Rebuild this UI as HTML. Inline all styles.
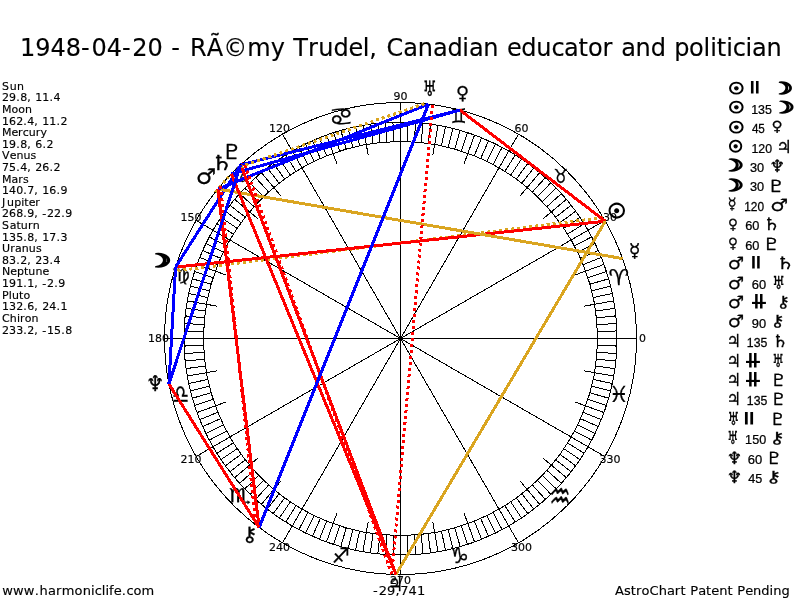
<!DOCTYPE html><html><head><meta charset="utf-8"><title>AstroChart</title><style>html,body{margin:0;padding:0;background:#fff;overflow:hidden}svg{display:block}.v{font-family:"DejaVu Sans","Liberation Sans",sans-serif;stroke:#000;stroke-width:0.15px}.a{font-family:"Liberation Sans","DejaVu Sans",sans-serif}.g{font-family:"DejaVu Sans",sans-serif}</style></head><body>
<svg width="800" height="600" viewBox="0 0 800 600">
<rect width="800" height="600" fill="#fff"/>
<g fill="#000">
<text class="v" x="20 35.27 50.54 65.82 81.09 91.43 106.7 121.98 132.32 147.59 162.87 171.31 181.66 190.1 206.87 223.31 247.33 270.7 284.75 293.19 308.02 318.27 333.47 348.44 362.76 369.35 378.09 386.54 403.36 417.77 432.97 447.39 462.36 468.95 483.36 498.56 507.01 521.33 536.3 551.5 564.09 578.5 587.97 602.43 612.68 621.13 635.54 650.74 665.71 674.16 689.12 703.59 710.18 716.77 726.24 732.83 745.41 752 766.42" y="55.8" font-size="24">1948-04-20 - RÃ©my Trudel, Canadian educator and politician</text>
<text class="v" x="2 9.77 16.96" y="89.75" font-size="11">Sun</text>
<text class="v" x="2 9.08 16.16 20.21 27.28 31.33 35.25 42.33 49.4 53.45" y="101.36" font-size="11">29.8, 11.4</text>
<text class="v" x="2 11.5 18.28 25.06" y="112.96" font-size="11">Moon</text>
<text class="v" x="2 9.07 16.14 23.21 27.25 34.32 38.36 42.27 49.34 56.41 60.46" y="124.57" font-size="11">162.4, 11.2</text>
<text class="v" x="2 11.42 18.08 22.85 28.71 35.78 40.55" y="136.18" font-size="11">Mercury</text>
<text class="v" x="2 9.09 16.18 20.24 27.32 31.38 35.3 42.39 46.45" y="147.78" font-size="11">19.8, 6.2</text>
<text class="v" x="2 9.68 16.38 23.48 30.59" y="159.39" font-size="11">Venus</text>
<text class="v" x="2 9.08 16.16 20.21 27.28 31.33 35.25 42.33 49.4 53.45" y="171" font-size="11">75.4, 26.2</text>
<text class="v" x="2 11.52 18.3 23.12" y="182.61" font-size="11">Mars</text>
<text class="v" x="2 9.07 16.14 23.21 27.25 34.32 38.36 42.27 49.34 56.41 60.46" y="194.21" font-size="11">140.7, 16.9</text>
<text class="v" x="2 7.07 14.16 21.14 24.21 28.63 35.31" y="205.82" font-size="11">Jupiter</text>
<text class="v" x="2 9.06 16.13 23.19 27.23 34.3 38.34 42.24 47.03 54.09 61.16 65.2" y="217.43" font-size="11">268.9, -22.9</text>
<text class="v" x="2 9.67 16.39 20.81 27.9 32.68" y="229.03" font-size="11">Saturn</text>
<text class="v" x="2 9.07 16.14 23.21 27.25 34.32 38.36 42.27 49.34 56.41 60.46" y="240.64" font-size="11">135.8, 17.3</text>
<text class="v" x="2 10.21 14.99 21.71 28.8 35.88" y="252.25" font-size="11">Uranus</text>
<text class="v" x="2 9.08 16.16 20.21 27.28 31.33 35.25 42.33 49.4 53.45" y="263.86" font-size="11">83.2, 23.4</text>
<text class="v" x="2 10.35 17.01 23.97 28.37 35.43 42.5" y="275.46" font-size="11">Neptune</text>
<text class="v" x="2 9.07 16.14 23.21 27.26 34.33 38.38 42.29 47.08 54.15 58.2" y="287.07" font-size="11">191.1, -2.9</text>
<text class="v" x="2 8.81 11.91 19.05 23.49" y="298.68" font-size="11">Pluto</text>
<text class="v" x="2 9.07 16.14 23.21 27.25 34.32 38.36 42.27 49.34 56.41 60.46" y="310.28" font-size="11">132.6, 24.1</text>
<text class="v" x="2 9.85 16.95 20.03 24.81 31.56" y="321.89" font-size="11">Chiron</text>
<text class="v" x="2 9.06 16.13 23.19 27.23 34.3 38.34 42.24 47.03 54.09 61.16 65.2" y="333.5" font-size="11">233.2, -15.8</text>
<text class="v" x="2.3 13.08 23.86 34.64 39.5 47.94 55.95 61.64 74.62 82.65 91.09 94.75 101.74 105.41 109.07 113.76 121.71 126.56 133.55 141.59" y="594.6" font-size="13">www.harmoniclife.com</text>
<text class="v" x="615 624 630.72 635.9 641.51 649.43 658.64 666.96 674.85 680.46 685.65 690.27 698.21 706.1 711.29 719.13 727.45 732.63 737.25 745.2 753.04 761.36 769.55 773.16 781.48" y="594.6" font-size="13">AstroChart Patent Pending</text>
<text class="v" x="373 378.67 387.05 395.43 400.22 408.6 416.97" y="594.6" font-size="13">-29,741</text>
</g>
<g fill="none" stroke="#000" stroke-width="1" shape-rendering="crispEdges">
<circle cx="400.5" cy="338.5" r="236"/>
<circle cx="400.5" cy="338.5" r="216.5"/>
<circle cx="400.5" cy="338.5" r="197"/>
<path d="M597.5 338.5L617 338.5M597.38 331.62L616.87 330.94M597.02 324.76L616.47 323.4M596.42 317.91L615.81 315.87M595.58 311.08L614.89 308.37M594.51 304.29L613.71 300.91M593.2 297.54L612.27 293.49M591.65 290.84L610.57 286.12M589.87 284.2L608.61 278.82M587.86 277.62L606.4 271.6M585.62 271.12L603.94 264.45M583.16 264.7L601.24 257.4M580.47 258.37L598.28 250.44M577.56 252.14L595.09 243.59M574.44 246.01L591.66 236.86M571.11 240L587.99 230.25M567.57 234.11L584.1 223.77M563.82 228.34L579.99 217.43M559.88 222.71L575.65 211.24M555.74 217.21L571.1 205.21M551.41 211.87L566.35 199.34M546.9 206.68L561.39 193.63M542.21 201.65L556.24 188.11M537.35 196.79L550.89 182.76M532.32 192.1L545.37 177.61M527.13 187.59L539.66 172.65M521.79 183.26L533.79 167.9M516.29 179.12L527.76 163.35M510.66 175.18L521.57 159.01M504.89 171.43L515.23 154.9M499 167.89L508.75 151.01M492.99 164.56L502.14 147.34M486.86 161.44L495.41 143.91M480.63 158.53L488.56 140.72M474.3 155.84L481.6 137.76M467.88 153.38L474.55 135.06M461.38 151.14L467.4 132.6M454.8 149.13L460.18 130.39M448.16 147.35L452.88 128.43M441.46 145.8L445.51 126.73M434.71 144.49L438.09 125.29M427.92 143.42L430.63 124.11M421.09 142.58L423.13 123.19M414.24 141.98L415.6 122.53M407.38 141.62L408.06 122.13M400.5 141.5L400.5 122M393.62 141.62L392.94 122.13M386.76 141.98L385.4 122.53M379.91 142.58L377.87 123.19M373.08 143.42L370.37 124.11M366.29 144.49L362.91 125.29M359.54 145.8L355.49 126.73M352.84 147.35L348.12 128.43M346.2 149.13L340.82 130.39M339.62 151.14L333.6 132.6M333.12 153.38L326.45 135.06M326.7 155.84L319.4 137.76M320.37 158.53L312.44 140.72M314.14 161.44L305.59 143.91M308.01 164.56L298.86 147.34M302 167.89L292.25 151.01M296.11 171.43L285.77 154.9M290.34 175.18L279.43 159.01M284.71 179.12L273.24 163.35M279.21 183.26L267.21 167.9M273.87 187.59L261.34 172.65M268.68 192.1L255.63 177.61M263.65 196.79L250.11 182.76M258.79 201.65L244.76 188.11M254.1 206.68L239.61 193.63M249.59 211.87L234.65 199.34M245.26 217.21L229.9 205.21M241.12 222.71L225.35 211.24M237.18 228.34L221.01 217.43M233.43 234.11L216.9 223.77M229.89 240L213.01 230.25M226.56 246.01L209.34 236.86M223.44 252.14L205.91 243.59M220.53 258.37L202.72 250.44M217.84 264.7L199.76 257.4M215.38 271.12L197.06 264.45M213.14 277.62L194.6 271.6M211.13 284.2L192.39 278.82M209.35 290.84L190.43 286.12M207.8 297.54L188.73 293.49M206.49 304.29L187.29 300.91M205.42 311.08L186.11 308.37M204.58 317.91L185.19 315.87M203.98 324.76L184.53 323.4M203.62 331.62L184.13 330.94M203.5 338.5L184 338.5M203.62 345.38L184.13 346.06M203.98 352.24L184.53 353.6M204.58 359.09L185.19 361.13M205.42 365.92L186.11 368.63M206.49 372.71L187.29 376.09M207.8 379.46L188.73 383.51M209.35 386.16L190.43 390.88M211.13 392.8L192.39 398.18M213.14 399.38L194.6 405.4M215.38 405.88L197.06 412.55M217.84 412.3L199.76 419.6M220.53 418.63L202.72 426.56M223.44 424.86L205.91 433.41M226.56 430.99L209.34 440.14M229.89 437L213.01 446.75M233.43 442.89L216.9 453.23M237.18 448.66L221.01 459.57M241.12 454.29L225.35 465.76M245.26 459.79L229.9 471.79M249.59 465.13L234.65 477.66M254.1 470.32L239.61 483.37M258.79 475.35L244.76 488.89M263.65 480.21L250.11 494.24M268.68 484.9L255.63 499.39M273.87 489.41L261.34 504.35M279.21 493.74L267.21 509.1M284.71 497.88L273.24 513.65M290.34 501.82L279.43 517.99M296.11 505.57L285.77 522.1M302 509.11L292.25 525.99M308.01 512.44L298.86 529.66M314.14 515.56L305.59 533.09M320.37 518.47L312.44 536.28M326.7 521.16L319.4 539.24M333.12 523.62L326.45 541.94M339.62 525.86L333.6 544.4M346.2 527.87L340.82 546.61M352.84 529.65L348.12 548.57M359.54 531.2L355.49 550.27M366.29 532.51L362.91 551.71M373.08 533.58L370.37 552.89M379.91 534.42L377.87 553.81M386.76 535.02L385.4 554.47M393.62 535.38L392.94 554.87M400.5 535.5L400.5 555M407.38 535.38L408.06 554.87M414.24 535.02L415.6 554.47M421.09 534.42L423.13 553.81M427.92 533.58L430.63 552.89M434.71 532.51L438.09 551.71M441.46 531.2L445.51 550.27M448.16 529.65L452.88 548.57M454.8 527.87L460.18 546.61M461.38 525.86L467.4 544.4M467.88 523.62L474.55 541.94M474.3 521.16L481.6 539.24M480.63 518.47L488.56 536.28M486.86 515.56L495.41 533.09M492.99 512.44L502.14 529.66M499 509.11L508.75 525.99M504.89 505.57L515.23 522.1M510.66 501.82L521.57 517.99M516.29 497.88L527.76 513.65M521.79 493.74L533.79 509.1M527.13 489.41L539.66 504.35M532.32 484.9L545.37 499.39M537.35 480.21L550.89 494.24M542.21 475.35L556.24 488.89M546.9 470.32L561.39 483.37M551.41 465.13L566.35 477.66M555.74 459.79L571.1 471.79M559.88 454.29L575.65 465.76M563.82 448.66L579.99 459.57M567.57 442.89L584.1 453.23M571.11 437L587.99 446.75M574.44 430.99L591.66 440.14M577.56 424.86L595.09 433.41M580.47 418.63L598.28 426.56M583.16 412.3L601.24 419.6M585.62 405.88L603.94 412.55M587.86 399.38L606.4 405.4M589.87 392.8L608.61 398.18M591.65 386.16L610.57 390.88M593.2 379.46L612.27 383.51M594.51 372.71L613.71 376.09M595.58 365.92L614.89 368.63M596.42 359.09L615.81 361.13M597.02 352.24L616.47 353.6M597.38 345.38L616.87 346.06M583.67 306.2L594.51 304.29M575.28 274.88L585.62 271.12M542.98 218.94L551.41 211.87M520.06 196.02L527.13 187.59M464.12 163.72L467.88 153.38M432.8 155.33L434.71 144.49M368.2 155.33L366.29 144.49M336.88 163.72L333.12 153.38M280.94 196.02L273.87 187.59M258.02 218.94L249.59 211.87M225.72 274.88L215.38 271.12M217.33 306.2L206.49 304.29M217.33 370.8L206.49 372.71M225.72 402.12L215.38 405.88M258.02 458.06L249.59 465.13M280.94 480.98L273.87 489.41M336.88 513.28L333.12 523.62M368.2 521.67L366.29 532.51M432.8 521.67L434.71 532.51M464.12 513.28L467.88 523.62M520.06 480.98L527.13 489.41M542.98 458.06L551.41 465.13M575.28 402.12L585.62 405.88M583.67 370.8L594.51 372.71M400.5 338.5L636.5 338.5M400.5 338.5L604.88 220.5M400.5 338.5L518.5 134.12M400.5 338.5L400.5 102.5M400.5 338.5L282.5 134.12M400.5 338.5L196.12 220.5M400.5 338.5L164.5 338.5M400.5 338.5L196.12 456.5M400.5 338.5L282.5 542.88M400.5 338.5L400.5 574.5M400.5 338.5L518.5 542.88M400.5 338.5L604.88 456.5"/>
</g>
<circle cx="400.5" cy="338.5" r="2.5" fill="#000"/>
<g fill="#000">
<text class="v" x="639" y="341.7" font-size="10.5" textLength="6.99" lengthAdjust="spacingAndGlyphs">0</text>
<text class="v" x="603.08" y="220.7" font-size="10.5" textLength="13.99" lengthAdjust="spacingAndGlyphs">30</text>
<text class="v" x="514.51" y="132.12" font-size="10.5" textLength="13.99" lengthAdjust="spacingAndGlyphs">60</text>
<text class="v" x="393.51" y="99.7" font-size="10.5" textLength="13.99" lengthAdjust="spacingAndGlyphs">90</text>
<text class="v" x="269.01" y="132.12" font-size="10.5" textLength="20.98" lengthAdjust="spacingAndGlyphs">120</text>
<text class="v" x="180.43" y="220.7" font-size="10.5" textLength="20.98" lengthAdjust="spacingAndGlyphs">150</text>
<text class="v" x="148.01" y="341.7" font-size="10.5" textLength="20.98" lengthAdjust="spacingAndGlyphs">180</text>
<text class="v" x="180.43" y="462.7" font-size="10.5" textLength="20.98" lengthAdjust="spacingAndGlyphs">210</text>
<text class="v" x="269.01" y="551.28" font-size="10.5" textLength="20.98" lengthAdjust="spacingAndGlyphs">240</text>
<text class="v" x="390.01" y="583.7" font-size="10.5" textLength="20.98" lengthAdjust="spacingAndGlyphs">270</text>
<text class="v" x="511.01" y="551.28" font-size="10.5" textLength="20.98" lengthAdjust="spacingAndGlyphs">300</text>
<text class="v" x="599.59" y="462.7" font-size="10.5" textLength="20.98" lengthAdjust="spacingAndGlyphs">330</text>
</g>
<g fill="#000">
<text class="g" font-size="100" transform="matrix(0.2300 0 0 0.2185 608.60 284.85)" stroke="#000" stroke-width="0.3" vector-effect="non-scaling-stroke">♈</text>
<text class="g" font-size="100" transform="matrix(0.1625 0 0 0.1973 553.39 182.55)" stroke="#000" stroke-width="0.3" vector-effect="non-scaling-stroke">♉</text>
<text class="g" font-size="100" transform="matrix(0.1761 0 0 0.2014 450.77 123.35)" stroke="#000" stroke-width="0.3" vector-effect="non-scaling-stroke">♊</text>
<text class="g" font-size="100" transform="matrix(-0.2746 0 0 0.2415 353.57 124.57)" stroke="#000" stroke-width="0.3" vector-effect="non-scaling-stroke">♋</text>
<text class="g" font-size="100" transform="matrix(0.2246 0 0 0.2151 228.31 182.15)" stroke="#000" stroke-width="0.3" vector-effect="non-scaling-stroke">♌</text>
<text class="g" font-size="100" transform="matrix(0.2013 0 0 0.1725 171.94 281.24)" stroke="#000" stroke-width="0.3" vector-effect="non-scaling-stroke">♍</text>
<text class="g" font-size="100" transform="matrix(0.1904 0 0 0.2575 172.03 402.89)" stroke="#000" stroke-width="0.3" vector-effect="non-scaling-stroke">♎</text>
<text class="g" font-size="100" transform="matrix(0.2476 0 0 0.1915 228.86 501.83)" stroke="#000" stroke-width="0.3" vector-effect="non-scaling-stroke">♏</text>
<text class="g" font-size="100" transform="matrix(0.1986 0 0 0.2110 332.06 562.55)" stroke="#000" stroke-width="0.3" vector-effect="non-scaling-stroke">♐</text>
<text class="g" font-size="100" transform="matrix(0.2254 0 0 0.2192 449.12 562.85)" stroke="#000" stroke-width="0.3" vector-effect="non-scaling-stroke">♑</text>
<text class="g" font-size="100" transform="matrix(0.2389 0 0 0.3616 549.25 509.02)" stroke="#000" stroke-width="0.3" vector-effect="non-scaling-stroke">♒</text>
<text class="g" font-size="100" transform="matrix(0.2190 0 0 0.2192 608.95 401.85)" stroke="#000" stroke-width="0.3" vector-effect="non-scaling-stroke">♓</text>
</g>
<g fill="none" stroke-width="3" shape-rendering="crispEdges">
<line x1="603.21" y1="217.66" x2="174.34" y2="271.08" stroke="#daa520" stroke-dasharray="3 3"/>
<line x1="605.29" y1="221.21" x2="175.55" y2="267.14" stroke="#ff0000"/>
<line x1="605.29" y1="221.21" x2="459.99" y2="110.12" stroke="#ff0000"/>
<line x1="605.29" y1="221.21" x2="395.97" y2="574.46" stroke="#daa520"/>
<line x1="175.55" y1="267.14" x2="168.91" y2="383.94" stroke="#0000ff"/>
<line x1="175.55" y1="267.14" x2="240.76" y2="164.78" stroke="#0000ff"/>
<line x1="622.55" y1="258.56" x2="217.87" y2="189.02" stroke="#daa520"/>
<line x1="459.99" y1="110.12" x2="231.31" y2="173.97" stroke="#0000ff"/>
<line x1="459.99" y1="110.12" x2="240.76" y2="164.78" stroke="#0000ff"/>
<line x1="215.29" y1="192.23" x2="228.46" y2="176.95" stroke="#daa520" stroke-dasharray="3 3"/>
<line x1="217.87" y1="189.02" x2="428.44" y2="104.16" stroke="#0000ff"/>
<line x1="220.51" y1="185.86" x2="255.85" y2="524.98" stroke="#ff0000" stroke-dasharray="3 3"/>
<line x1="217.87" y1="189.02" x2="259.13" y2="527.47" stroke="#ff0000"/>
<line x1="395.97" y1="574.46" x2="231.31" y2="173.97" stroke="#ff0000"/>
<line x1="391.85" y1="574.34" x2="432.53" y2="104.68" stroke="#ff0000" stroke-dasharray="3 3"/>
<line x1="391.85" y1="574.34" x2="243.81" y2="162.02" stroke="#ff0000" stroke-dasharray="3 3"/>
<line x1="395.97" y1="574.46" x2="240.76" y2="164.78" stroke="#ff0000"/>
<line x1="424.35" y1="103.71" x2="237.75" y2="167.6" stroke="#daa520" stroke-dasharray="3 3"/>
<line x1="428.44" y1="104.16" x2="259.13" y2="527.47" stroke="#0000ff"/>
<line x1="168.91" y1="383.94" x2="240.76" y2="164.78" stroke="#0000ff"/>
<line x1="168.91" y1="383.94" x2="259.13" y2="527.47" stroke="#ff0000"/>
</g>
<g fill="#000">
<text class="g" font-size="100" transform="matrix(0.2055 0 0 0.2014 607.21 218.25)" stroke="#000" stroke-width="1.3" vector-effect="non-scaling-stroke">☉</text>
<text class="g" font-size="100" transform="matrix(0.2889 0 0 0.1849 145.60 266.50)" stroke="#000" stroke-width="2.0" vector-effect="non-scaling-stroke">☽</text>
<text class="g" font-size="100" transform="matrix(0.1932 0 0 0.1861 628.81 256.74)" stroke="#000" stroke-width="0.3" vector-effect="non-scaling-stroke">☿</text>
<text class="g" font-size="100" transform="matrix(0.1789 0 0 0.1797 455.92 99.01)" stroke="#000" stroke-width="0.3" vector-effect="non-scaling-stroke">♀</text>
<text class="g" font-size="100" transform="matrix(0.2280 0 0 0.2151 195.63 184.33)" stroke="#000" stroke-width="0.3" vector-effect="non-scaling-stroke">♂</text>
<text class="g" font-size="100" transform="matrix(0.1732 0 0 0.2082 387.71 591.35)" stroke="#000" stroke-width="0.3" vector-effect="non-scaling-stroke">♃</text>
<text class="g" font-size="100" transform="matrix(0.2543 0 0 0.2055 210.55 169.85)" stroke="#000" stroke-width="0.3" vector-effect="non-scaling-stroke">♄</text>
<text class="g" font-size="100" transform="matrix(0.1569 0 0 0.2123 422.67 95.65)" stroke="#000" stroke-width="0.3" vector-effect="non-scaling-stroke">♅</text>
<text class="g" font-size="100" transform="matrix(0.1992 0 0 0.2158 146.21 390.70)" stroke="#000" stroke-width="0.4" vector-effect="non-scaling-stroke">♆</text>
<text class="g" font-size="100" transform="matrix(0.2452 0 0 0.2055 220.96 159.15)" stroke="#000" stroke-width="0.3" vector-effect="non-scaling-stroke">♇</text>
<text class="g" font-size="100" transform="matrix(0.2250 0 0 0.2025 241.57 540.83)" stroke="#000" stroke-width="0.3" vector-effect="non-scaling-stroke">⚷</text>
</g>
<g fill="#000">
<text class="g" font-size="100" transform="matrix(0.1808 0 0 0.1603 728.20 93.85)" stroke="#000" stroke-width="1.3" vector-effect="non-scaling-stroke">☉</text>
<text class="g" font-size="100" transform="matrix(0.3125 0 0 0.1300 746.94 91.38)">‖</text>
<text class="g" font-size="100" transform="matrix(0.2400 0 0 0.1644 771.21 93.65)" stroke="#000" stroke-width="1.7" vector-effect="non-scaling-stroke">☽</text>
<text class="g" font-size="100" transform="matrix(0.1808 0 0 0.1603 728.20 113.29)" stroke="#000" stroke-width="1.3" vector-effect="non-scaling-stroke">☉</text>
<text class="a" font-size="100" transform="matrix(0.1242 0 0 0.1232 751.13 113.69)" stroke="#000" stroke-width="0.25" vector-effect="non-scaling-stroke">135</text>
<text class="g" font-size="100" transform="matrix(0.2622 0 0 0.1644 770.91 113.09)" stroke="#000" stroke-width="1.7" vector-effect="non-scaling-stroke">☽</text>
<text class="g" font-size="100" transform="matrix(0.1808 0 0 0.1603 728.20 132.73)" stroke="#000" stroke-width="1.3" vector-effect="non-scaling-stroke">☉</text>
<text class="a" font-size="100" transform="matrix(0.1167 0 0 0.1232 751.89 133.13)" stroke="#000" stroke-width="0.25" vector-effect="non-scaling-stroke">45</text>
<text class="g" font-size="100" transform="matrix(0.1526 0 0 0.1419 771.43 131.39)" stroke="#000" stroke-width="0.3" vector-effect="non-scaling-stroke">♀</text>
<text class="g" font-size="100" transform="matrix(0.1644 0 0 0.1603 728.33 152.17)" stroke="#000" stroke-width="1.3" vector-effect="non-scaling-stroke">☉</text>
<text class="a" font-size="100" transform="matrix(0.1235 0 0 0.1232 751.44 152.57)" stroke="#000" stroke-width="0.25" vector-effect="non-scaling-stroke">120</text>
<text class="g" font-size="100" transform="matrix(0.1732 0 0 0.1781 776.21 152.67)" stroke="#000" stroke-width="0.3" vector-effect="non-scaling-stroke">♃</text>
<text class="g" font-size="100" transform="matrix(0.2578 0 0 0.1644 720.57 171.41)" stroke="#000" stroke-width="1.7" vector-effect="non-scaling-stroke">☽</text>
<text class="a" font-size="100" transform="matrix(0.1277 0 0 0.1232 749.91 172.01)" stroke="#000" stroke-width="0.25" vector-effect="non-scaling-stroke">30</text>
<text class="g" font-size="100" transform="matrix(0.1703 0 0 0.1699 769.69 172.06)" stroke="#000" stroke-width="0.4" vector-effect="non-scaling-stroke">♆</text>
<text class="g" font-size="100" transform="matrix(0.2578 0 0 0.1644 720.57 190.85)" stroke="#000" stroke-width="1.7" vector-effect="non-scaling-stroke">☽</text>
<text class="a" font-size="100" transform="matrix(0.1277 0 0 0.1232 749.91 191.45)" stroke="#000" stroke-width="0.25" vector-effect="non-scaling-stroke">30</text>
<text class="g" font-size="100" transform="matrix(0.2143 0 0 0.1699 766.71 191.55)" stroke="#000" stroke-width="0.3" vector-effect="non-scaling-stroke">♇</text>
<text class="g" font-size="100" transform="matrix(0.1455 0 0 0.1566 727.84 209.42)" stroke="#000" stroke-width="0.3" vector-effect="non-scaling-stroke">☿</text>
<text class="a" font-size="100" transform="matrix(0.1190 0 0 0.1232 744.17 210.89)" stroke="#000" stroke-width="0.25" vector-effect="non-scaling-stroke">120</text>
<text class="g" font-size="100" transform="matrix(0.2000 0 0 0.1699 770.25 210.82)" stroke="#000" stroke-width="0.3" vector-effect="non-scaling-stroke">♂</text>
<text class="g" font-size="100" transform="matrix(0.1351 0 0 0.1419 728.07 228.59)" stroke="#000" stroke-width="0.3" vector-effect="non-scaling-stroke">♀</text>
<text class="a" font-size="100" transform="matrix(0.1279 0 0 0.1232 745.19 230.33)" stroke="#000" stroke-width="0.25" vector-effect="non-scaling-stroke">60</text>
<text class="g" font-size="100" transform="matrix(0.1957 0 0 0.1699 762.85 230.43)" stroke="#000" stroke-width="0.3" vector-effect="non-scaling-stroke">♄</text>
<text class="g" font-size="100" transform="matrix(0.1351 0 0 0.1419 728.07 248.03)" stroke="#000" stroke-width="0.3" vector-effect="non-scaling-stroke">♀</text>
<text class="a" font-size="100" transform="matrix(0.1279 0 0 0.1232 745.19 249.77)" stroke="#000" stroke-width="0.25" vector-effect="non-scaling-stroke">60</text>
<text class="g" font-size="100" transform="matrix(0.2143 0 0 0.1699 762.01 249.87)" stroke="#000" stroke-width="0.3" vector-effect="non-scaling-stroke">♇</text>
<text class="g" font-size="100" transform="matrix(0.1827 0 0 0.1699 727.69 269.14)" stroke="#000" stroke-width="0.3" vector-effect="non-scaling-stroke">♂</text>
<text class="g" font-size="100" transform="matrix(0.3083 0 0 0.1300 748.29 266.34)">‖</text>
<text class="g" font-size="100" transform="matrix(0.2109 0 0 0.1699 775.81 269.31)" stroke="#000" stroke-width="0.3" vector-effect="non-scaling-stroke">♄</text>
<text class="g" font-size="100" transform="matrix(0.1827 0 0 0.1699 727.69 288.58)" stroke="#000" stroke-width="0.3" vector-effect="non-scaling-stroke">♂</text>
<text class="a" font-size="100" transform="matrix(0.1289 0 0 0.1232 751.78 288.65)" stroke="#000" stroke-width="0.25" vector-effect="non-scaling-stroke">60</text>
<text class="g" font-size="100" transform="matrix(0.1385 0 0 0.1795 772.19 288.75)" stroke="#000" stroke-width="0.3" vector-effect="non-scaling-stroke">♅</text>
<text class="g" font-size="100" transform="matrix(0.1827 0 0 0.1699 727.69 308.02)" stroke="#000" stroke-width="0.3" vector-effect="non-scaling-stroke">♂</text>
<text class="g" font-size="100" transform="matrix(0.3042 0 0 0.1375 751.25 305.49)">‖</text>
<text class="g" font-size="100" transform="matrix(0.1544 0 0 0.3000 751.13 311.24)">—</text>
<text class="g" font-size="100" transform="matrix(0.1925 0 0 0.1593 776.19 306.60)" stroke="#000" stroke-width="0.3" vector-effect="non-scaling-stroke">⚷</text>
<text class="g" font-size="100" transform="matrix(0.1827 0 0 0.1699 727.69 327.46)" stroke="#000" stroke-width="0.3" vector-effect="non-scaling-stroke">♂</text>
<text class="a" font-size="100" transform="matrix(0.1289 0 0 0.1232 751.78 327.53)" stroke="#000" stroke-width="0.25" vector-effect="non-scaling-stroke">90</text>
<text class="g" font-size="100" transform="matrix(0.2075 0 0 0.1593 769.91 326.04)" stroke="#000" stroke-width="0.3" vector-effect="non-scaling-stroke">⚷</text>
<text class="g" font-size="100" transform="matrix(0.1607 0 0 0.1781 726.42 347.07)" stroke="#000" stroke-width="0.3" vector-effect="non-scaling-stroke">♃</text>
<text class="a" font-size="100" transform="matrix(0.1229 0 0 0.1232 746.84 346.97)" stroke="#000" stroke-width="0.25" vector-effect="non-scaling-stroke">135</text>
<text class="g" font-size="100" transform="matrix(0.1804 0 0 0.1699 771.88 347.07)" stroke="#000" stroke-width="0.3" vector-effect="non-scaling-stroke">♄</text>
<text class="g" font-size="100" transform="matrix(0.1607 0 0 0.1781 726.42 366.51)" stroke="#000" stroke-width="0.3" vector-effect="non-scaling-stroke">♃</text>
<text class="g" font-size="100" transform="matrix(0.3042 0 0 0.1375 745.25 363.81)">‖</text>
<text class="g" font-size="100" transform="matrix(0.1544 0 0 0.3000 745.13 369.56)">—</text>
<text class="g" font-size="100" transform="matrix(0.1277 0 0 0.1795 772.32 366.51)" stroke="#000" stroke-width="0.3" vector-effect="non-scaling-stroke">♅</text>
<text class="g" font-size="100" transform="matrix(0.1607 0 0 0.1781 726.42 385.95)" stroke="#000" stroke-width="0.3" vector-effect="non-scaling-stroke">♃</text>
<text class="g" font-size="100" transform="matrix(0.3042 0 0 0.1375 745.25 383.25)">‖</text>
<text class="g" font-size="100" transform="matrix(0.1544 0 0 0.3000 745.13 389.00)">—</text>
<text class="g" font-size="100" transform="matrix(0.2000 0 0 0.1699 769.65 385.95)" stroke="#000" stroke-width="0.3" vector-effect="non-scaling-stroke">♇</text>
<text class="g" font-size="100" transform="matrix(0.1607 0 0 0.1781 726.42 405.39)" stroke="#000" stroke-width="0.3" vector-effect="non-scaling-stroke">♃</text>
<text class="a" font-size="100" transform="matrix(0.1229 0 0 0.1232 746.84 405.29)" stroke="#000" stroke-width="0.25" vector-effect="non-scaling-stroke">135</text>
<text class="g" font-size="100" transform="matrix(0.2000 0 0 0.1699 769.65 405.39)" stroke="#000" stroke-width="0.3" vector-effect="non-scaling-stroke">♇</text>
<text class="g" font-size="100" transform="matrix(0.1292 0 0 0.1795 727.60 424.83)" stroke="#000" stroke-width="0.3" vector-effect="non-scaling-stroke">♅</text>
<text class="g" font-size="100" transform="matrix(0.3333 0 0 0.1300 740.67 421.86)">‖</text>
<text class="g" font-size="100" transform="matrix(0.1976 0 0 0.1699 769.11 424.83)" stroke="#000" stroke-width="0.3" vector-effect="non-scaling-stroke">♇</text>
<text class="g" font-size="100" transform="matrix(0.1215 0 0 0.1795 727.19 444.27)" stroke="#000" stroke-width="0.3" vector-effect="non-scaling-stroke">♅</text>
<text class="a" font-size="100" transform="matrix(0.1261 0 0 0.1232 745.12 444.17)" stroke="#000" stroke-width="0.25" vector-effect="non-scaling-stroke">150</text>
<text class="g" font-size="100" transform="matrix(0.2275 0 0 0.1593 768.63 442.68)" stroke="#000" stroke-width="0.3" vector-effect="non-scaling-stroke">⚷</text>
<text class="g" font-size="100" transform="matrix(0.1687 0 0 0.1699 727.01 463.66)" stroke="#000" stroke-width="0.4" vector-effect="non-scaling-stroke">♆</text>
<text class="a" font-size="100" transform="matrix(0.1299 0 0 0.1232 747.78 463.61)" stroke="#000" stroke-width="0.25" vector-effect="non-scaling-stroke">60</text>
<text class="g" font-size="100" transform="matrix(0.2000 0 0 0.1699 765.35 463.71)" stroke="#000" stroke-width="0.3" vector-effect="non-scaling-stroke">♇</text>
<text class="g" font-size="100" transform="matrix(0.1687 0 0 0.1699 727.01 483.10)" stroke="#000" stroke-width="0.4" vector-effect="non-scaling-stroke">♆</text>
<text class="a" font-size="100" transform="matrix(0.1262 0 0 0.1232 748.17 483.05)" stroke="#000" stroke-width="0.25" vector-effect="non-scaling-stroke">45</text>
<text class="g" font-size="100" transform="matrix(0.2275 0 0 0.1593 765.13 481.56)" stroke="#000" stroke-width="0.3" vector-effect="non-scaling-stroke">⚷</text>
</g>
</svg></body></html>
